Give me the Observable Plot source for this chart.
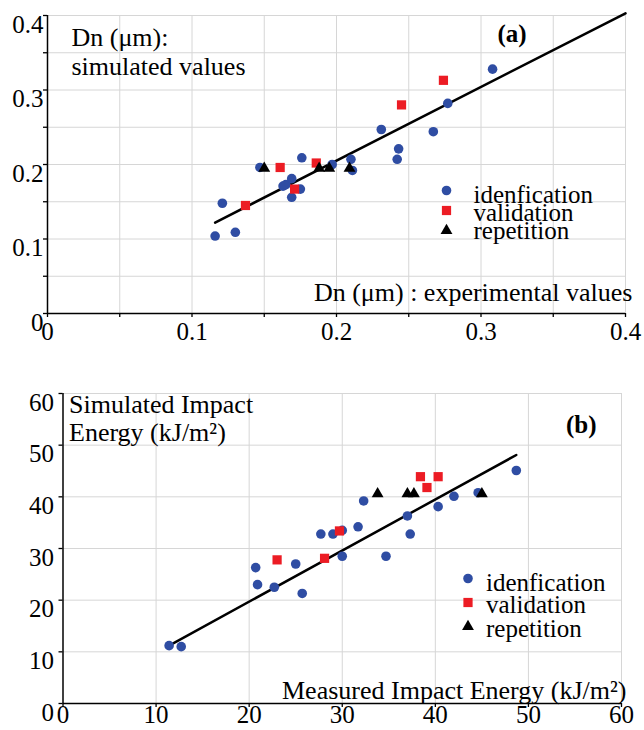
<!DOCTYPE html>
<html>
<head>
<meta charset="utf-8">
<script src="https://cdn.jsdelivr.net/npm/d3@7"></script>
<script src="https://cdn.jsdelivr.net/npm/@observablehq/plot@0.6"></script>
<style>
  html, body { margin: 0; padding: 0; background: #fff; }
  #wrap { position: relative; width: 644px; height: 730px; overflow: hidden; }
  #a, #b { position: absolute; left: 0; }
  #a { top: 0; }
  #b { top: 360px; }
</style>
</head>
<body>
<div id="wrap"><div id="a"></div><div id="b"></div></div>
<script>
// ---------- Chart (a): Dn (µm) ----------
const dnIdentX = [0.116,0.121,0.130,0.147,0.163,0.165,0.169,0.169,0.175,0.176,0.197,0.210,0.211,0.231,0.242,0.243,0.267,0.277,0.308];
const dnIdentY = [0.104,0.148,0.109,0.196,0.171,0.173,0.181,0.156,0.167,0.209,0.200,0.207,0.192,0.247,0.207,0.221,0.244,0.282,0.328];
const dnValidX = [0.137,0.161,0.171,0.186,0.245,0.274];
const dnValidY = [0.145,0.196,0.167,0.202,0.280,0.313];
const dnRepX = [0.150,0.188,0.195,0.209];
const dnRepY = [0.195,0.195,0.195,0.195];
const dnLineX = [0.116,0.400];
const dnLineY = [0.122,0.403];
const dnTicks = [0,0.1,0.2,0.3,0.4];
const dnTickLabels = ["0","0.1","0.2","0.3","0.4"];
const dnMinor = [0,0.05,0.1,0.15,0.2,0.25,0.3,0.35,0.4];
const dnGrid = [0.05,0.1,0.15,0.2,0.25,0.3,0.35,0.4];

// ---------- Chart (b): Impact energy ----------
const ieIdentX = [11.4,12.7,20.7,20.9,22.7,25.0,25.7,27.7,29.0,30.0,30.0,31.7,32.3,34.7,37.0,37.3,40.3,42.0,44.6,48.7];
const ieIdentY = [11.2,11.0,26.3,23.0,22.5,27.0,21.3,32.8,32.8,33.5,28.5,34.2,39.2,28.5,36.3,32.8,38.1,40.1,40.8,45.1];
const ieValidX = [23.0,28.1,29.7,38.4,39.1,40.3];
const ieValidY = [27.8,28.1,33.4,43.9,41.8,43.9];
const ieRepX = [33.8,37.0,37.7,45.0];
const ieRepY = [40.6,40.6,40.6,40.6];
const ieLineX = [11.4,48.7];
const ieLineY = [11.2,48.1];
const ieTicks = [0,10,20,30,40,50,60];
const ieTickLabels = ["0","10","20","30","40","50","60"];
const ieGrid = [10,20,30,40,50,60];

const seriesNames = ["idenfication","validation","repetition"];
const seriesSymbols = ["circle","square","triangle"];
const seriesColors = ["#2f4da3","#ec1c24","#000000"];

const zip = (xs, ys) => xs.map((x, i) => ({x, y: ys[i]}));

const FONT = "'Liberation Serif', 'Times New Roman', serif";
const LABEL_SIZE = 26;

function chart(cfg) {
  const ident = zip(cfg.identX, cfg.identY);
  const valid = zip(cfg.validX, cfg.validY);
  const rep = zip(cfg.repX, cfg.repY);
  const fit = zip(cfg.lineX, cfg.lineY);
  const fmt = d => cfg.tickLabels[cfg.ticks.indexOf(d)];
  const marks = [
    Plot.gridX(cfg.grid, {stroke: "#d6d6d6", strokeOpacity: 1, strokeWidth: 1}),
    Plot.gridY(cfg.grid, {stroke: "#d6d6d6", strokeOpacity: 1, strokeWidth: 1}),
    // minor ticks
    Plot.axisX(cfg.minorX, {tickSize: 4, tickFormat: () => "", strokeWidth: 1.3, label: null}),
    Plot.axisY(cfg.minorY, {tickSize: 4, tickFormat: () => "", strokeWidth: 1.3, label: null}),
    // tick labels
    Plot.axisX(cfg.ticks, {tickSize: 0, tickPadding: cfg.xPad, tickFormat: fmt, fontSize: 25, label: null}),
    Plot.axisY(cfg.ticks, {tickSize: 0, tickPadding: cfg.yPad, tickFormat: fmt, dy: 9, fontSize: 25, label: null}),
    Plot.ruleX([0], {stroke: "#000", strokeWidth: 1.5}),
    Plot.ruleY([0], {stroke: "#000", strokeWidth: 1.5}),
    Plot.line(fit, {x: "x", y: "y", stroke: "#000", strokeWidth: 2.5}),
    Plot.dot(ident, {x: "x", y: "y", symbol: "circle", fill: seriesColors[0], r: 4.8}),
    Plot.dot(valid, {x: "x", y: "y", symbol: "square", fill: seriesColors[1], r: 5.2}),
    Plot.dot(rep, {x: "x", y: "y", symbol: "triangle", fill: seriesColors[2], r: 4.4}),
    // labels
    Plot.text([cfg.yLabel[0]], {frameAnchor: "top-left", textAnchor: "start", lineAnchor: "bottom", dx: cfg.yLabelDx, dy: cfg.yLabelDy[0], fontSize: LABEL_SIZE}),
    Plot.text([cfg.yLabel[1]], {frameAnchor: "top-left", textAnchor: "start", lineAnchor: "bottom", dx: cfg.yLabelDx, dy: cfg.yLabelDy[1], fontSize: LABEL_SIZE}),
    Plot.text([cfg.xLabel], {frameAnchor: "bottom-right", textAnchor: "end", lineAnchor: "bottom", dx: cfg.xLabelDx, dy: cfg.xLabelDy, fontSize: LABEL_SIZE}),
    Plot.text([cfg.tag], {frameAnchor: "top-left", textAnchor: "start", lineAnchor: "bottom", dx: cfg.tagDx, dy: cfg.tagDy, fontSize: 25, fontWeight: "bold"})
  ];
  seriesNames.forEach((name, i) => {
    marks.push(Plot.dot([name], {frameAnchor: "top-left", dx: cfg.legMarkDx, dy: cfg.legMarkDy[i], symbol: seriesSymbols[i], fill: seriesColors[i], r: [4.8, 5.2, 4.4][i]}));
    marks.push(Plot.text([name], {frameAnchor: "top-left", textAnchor: "start", lineAnchor: "bottom", dx: cfg.legTextDx, dy: cfg.legTextDy[i], fontSize: 25}));
  });
  return Plot.plot({
    width: 644,
    height: cfg.height,
    marginLeft: cfg.ml, marginRight: cfg.mr, marginTop: cfg.mt, marginBottom: cfg.mb,
    x: {domain: cfg.domain, label: null},
    y: {domain: cfg.domain, label: null},
    style: {fontFamily: FONT, fontSize: "25px", background: "transparent", overflow: "visible", color: "#000"},
    marks
  });
}

document.getElementById("a").append(chart({
  identX: dnIdentX, identY: dnIdentY, validX: dnValidX, validY: dnValidY, repX: dnRepX, repY: dnRepY,
  lineX: dnLineX, lineY: dnLineY, ticks: dnTicks, tickLabels: dnTickLabels, minorX: dnMinor, minorY: dnMinor, grid: dnGrid,
  domain: [0, 0.4], height: 350, ml: 47, mr: 19, mt: 15, mb: 37, xPad: 9, yPad: 4,
  yLabel: ["Dn (\u03bcm):", "simulated values"], yLabelDx: 24, yLabelDy: [30, 59],
  xLabel: "Dn (\u03bcm) : experimental values", xLabelDx: 7, xLabelDy: -13,
  tag: "(a)", tagDx: 450, tagDy: 26,
  legMarkDx: 399, legMarkDy: [175, 195, 215], legTextDx: 426, legTextDy: [187, 205, 223]
}));

document.getElementById("b").append(chart({
  identX: ieIdentX, identY: ieIdentY, validX: ieValidX, validY: ieValidY, repX: ieRepX, repY: ieRepY,
  lineX: ieLineX, lineY: ieLineY, ticks: ieTicks, tickLabels: ieTickLabels, minorX: ieTicks, minorY: ieTicks, grid: ieGrid,
  domain: [0, 60], height: 370, ml: 62.5, mr: 23, mt: 33, mb: 27, xPad: 2, yPad: 9,
  yLabel: ["Simulated Impact", "Energy (kJ/m\u00b2)"], yLabelDx: 6, yLabelDy: [19, 47],
  xLabel: "Measured Impact Energy (kJ/m\u00b2)", xLabelDx: 5, xLabelDy: -5,
  tag: "(b)", tagDx: 503, tagDy: 39,
  legMarkDx: 405, legMarkDy: [185, 209, 233], legTextDx: 423, legTextDy: [197, 219, 243]
}));
</script>
</body>
</html>
